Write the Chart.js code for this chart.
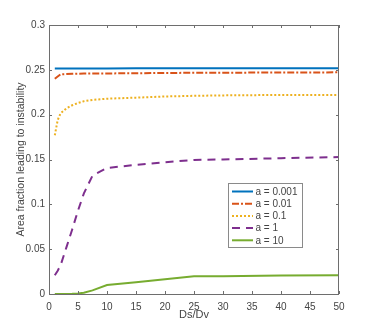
<!DOCTYPE html>
<html>
<head>
<meta charset="utf-8">
<script src="https://cdn.jsdelivr.net/npm/chart.js@4"></script>
<style>
  html, body { margin: 0; padding: 0; background: #fff; }
  #wrap { width: 374px; height: 331px; }
</style>
</head>
<body>
<div id="wrap"><canvas id="c" width="374" height="331"></canvas></div>
<script>
  // Ds/Dv sample points
  const ratio = [1, 1.5, 2, 3, 4, 5, 6, 7.5, 10, 15, 20, 25, 30, 40, 50];
  const a0001 = [0.2515, 0.2515, 0.2515, 0.2515, 0.2515, 0.2515, 0.2515, 0.2516, 0.2516, 0.2517, 0.2517, 0.2518, 0.2518, 0.2518, 0.2518];
  const a001 = [0.240, 0.2425, 0.245, 0.2453, 0.2455, 0.2457, 0.2458, 0.246, 0.246, 0.2462, 0.2465, 0.2467, 0.2468, 0.247, 0.2472];
  const a01 = [0.177, 0.194, 0.2015, 0.207, 0.2105, 0.213, 0.215, 0.2165, 0.2178, 0.219, 0.2203, 0.221, 0.2215, 0.222, 0.222];
  const a1 = [0.021, 0.026, 0.032, 0.052, 0.072, 0.093, 0.112, 0.132, 0.1405, 0.144, 0.147, 0.1495, 0.150, 0.1515, 0.1527];
  const a10 = [0, 0, 0, 0.0001, 0.0002, 0.0005, 0.0015, 0.004, 0.010, 0.013, 0.0165, 0.0197, 0.0199, 0.0205, 0.021];

  const xTicks = [0, 5, 10, 15, 20, 25, 30, 35, 40, 45, 50];
  const yTicks = [0, 0.05, 0.1, 0.15, 0.2, 0.25, 0.3];

  const FONT = "'Liberation Sans', Arial, sans-serif";
  const AXIS = '#6e6e6e';
  const TEXT = '#444444';

  function pts(ys) { return ratio.map((x, i) => ({ x, y: ys[i] })); }

  const series = [
    { label: 'a = 0.001', data: pts(a0001), color: '#0072BD', dash: [] },
    { label: 'a = 0.01', data: pts(a001), color: '#D95319', dash: [7, 2, 2, 2] },
    { label: 'a = 0.1', data: pts(a01), color: '#EDB120', dash: [2, 2] },
    { label: 'a = 1', data: pts(a1), color: '#7E2F8E', dash: [8, 6] },
    { label: 'a = 10', data: pts(a10), color: '#77AC30', dash: [] }
  ];

  // box, inward ticks, legend like the matlab figure
  const matlabAxes = {
    id: 'matlabAxes',
    afterDraw(chart) {
      const { ctx, chartArea: a, scales: { x, y } } = chart;
      ctx.save();
      ctx.strokeStyle = AXIS;
      ctx.lineWidth = 1;
      ctx.strokeRect(a.left + 0.5, a.top + 0.5, a.right - a.left - 1, a.bottom - a.top);
      ctx.beginPath();
      xTicks.forEach(v => {
        const px = Math.round(x.getPixelForValue(v)) + 0.5;
        ctx.moveTo(px, a.bottom); ctx.lineTo(px, a.bottom - 3);
        ctx.moveTo(px, a.top); ctx.lineTo(px, a.top + 3);
      });
      yTicks.forEach(v => {
        const py = Math.round(y.getPixelForValue(v)) + 0.5;
        ctx.moveTo(a.left, py); ctx.lineTo(a.left + 3, py);
        ctx.moveTo(a.right, py); ctx.lineTo(a.right - 3, py);
      });
      ctx.stroke();

      // legend
      const lx = 228, ly = 183, lw = 74, lh = 64;
      ctx.fillStyle = '#fff';
      ctx.fillRect(lx, ly, lw, lh);
      ctx.strokeStyle = '#8a8a8a';
      ctx.strokeRect(lx + 0.5, ly + 0.5, lw, lh);
      ctx.font = '10px ' + FONT;
      ctx.textBaseline = 'middle';
      series.forEach((s, i) => {
        const ry = ly + 8.5 + i * 12.2;
        ctx.beginPath();
        ctx.strokeStyle = s.color;
        ctx.lineWidth = 2;
        ctx.setLineDash(s.dash);
        ctx.moveTo(232, ry); ctx.lineTo(253, ry);
        ctx.stroke();
        ctx.setLineDash([]);
        ctx.fillStyle = TEXT;
        ctx.fillText(s.label, 255.5, ry + 0.5);
      });
      ctx.restore();
    }
  };

  new Chart(document.getElementById('c'), {
    type: 'line',
    data: {
      datasets: series.map(s => ({
        label: s.label,
        data: s.data,
        borderColor: s.color,
        borderDash: s.dash,
        borderWidth: 2,
        pointRadius: 0,
        tension: 0,
        fill: false
      }))
    },
    options: {
      responsive: false,
      animation: false,
      layout: { padding: { top: 25, right: 35, left: 0, bottom: 0 } },
      plugins: { legend: { display: false }, tooltip: { enabled: false } },
      scales: {
        x: {
          type: 'linear', min: 0, max: 50,
          afterFit(s) { s.height = 37; },
          afterBuildTicks(s) { s.ticks = xTicks.map(v => ({ value: v })); },
          grid: { display: false, drawTicks: false },
          border: { display: false },
          ticks: { color: TEXT, font: { family: FONT, size: 10 }, padding: 7, maxRotation: 0 },
          title: { display: true, text: 'Ds/Dv', color: TEXT, font: { family: FONT, size: 11 }, padding: { top: 0, bottom: 9 } }
        },
        y: {
          min: 0, max: 0.3,
          afterFit(s) { s.width = 49; },
          afterBuildTicks(s) { s.ticks = yTicks.map(v => ({ value: v })); },
          grid: { display: false, drawTicks: false },
          border: { display: false },
          ticks: { color: TEXT, font: { family: FONT, size: 10 }, padding: 4, callback: v => String(+v.toFixed(2)) },
          title: { display: true, text: 'Area fraction leading to instability', color: TEXT, font: { family: FONT, size: 10.5 }, padding: { top: 15, bottom: 0 } }
        }
      }
    },
    plugins: [matlabAxes]
  });
</script>
</body>
</html>
